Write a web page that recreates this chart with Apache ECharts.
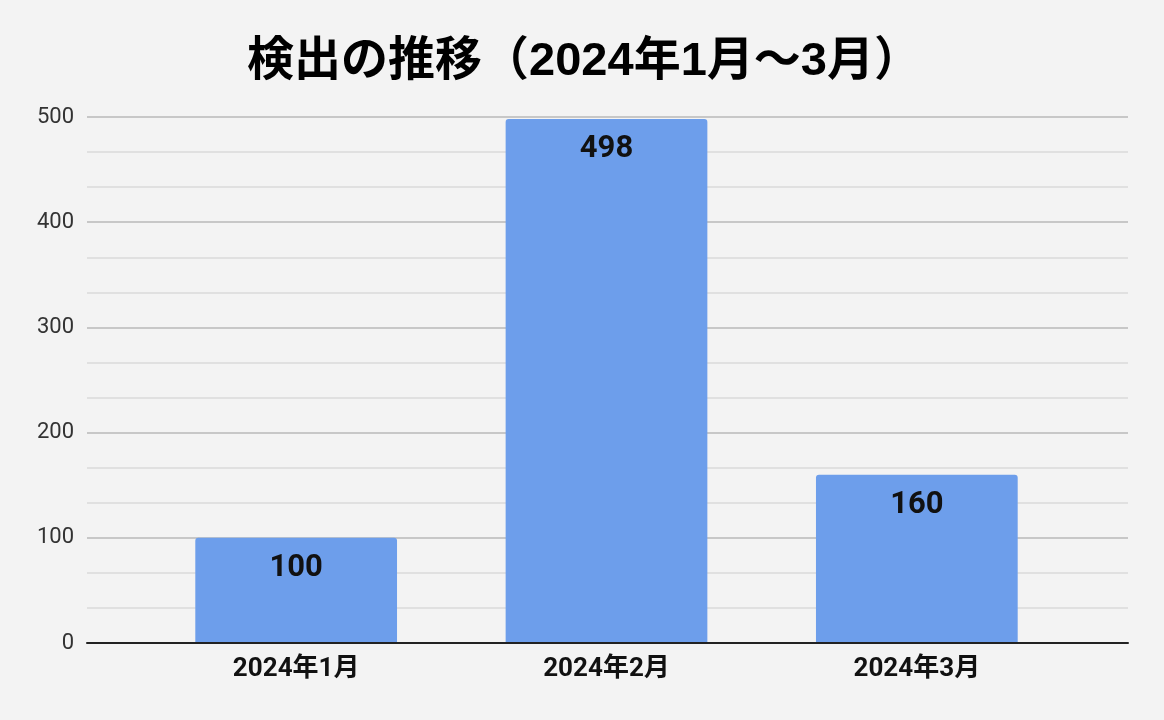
<!DOCTYPE html>
<html><head><meta charset="utf-8">
<script src="https://cdn.jsdelivr.net/npm/echarts@6/dist/echarts.min.js"></script>
<style>html,body{margin:0;padding:0;background:#f3f3f3}#c{width:1164px;height:720px}</style>
</head><body><div id="c"></div>
<script>
const titleText = '検出の推移（2024年1月～3月）';
const categories = ['2024年1月', '2024年2月', '2024年3月'];
const values = [100, 498, 160];
const yMin = 0, yMax = 500, yInterval = 100;

const chart = echarts.init(document.getElementById('c'), null, {renderer: 'canvas'});
chart.setOption({
  backgroundColor: '#f3f3f3',
  animation: false,
  title: {
    text: titleText, left: 579, top: 34, textAlign: 'center',
    textStyle: {fontFamily: '"Liberation Sans", "Noto Sans CJK JP", sans-serif', fontWeight: 'bold', fontSize: 47, color: '#000'}
  },
  grid: [
    {left: 87, right: 36, top: 117, bottom: 77},
    {left: 141, right: 92, top: 117, bottom: 77}
  ],
  xAxis: [
    {gridIndex: 0, type: 'category', data: categories, axisLine: {lineStyle: {color: '#222', width: 2}}, axisTick: {show: false}, axisLabel: {show: false}, z: 10},
    {gridIndex: 1, type: 'category', data: categories, axisLine: {show: false}, axisTick: {show: false},
     axisLabel: {margin: 13, fontFamily: 'Roboto, "Noto Sans CJK JP", sans-serif', fontWeight: 'bold', fontSize: 26, color: '#111'}}
  ],
  yAxis: [
    {gridIndex: 0, type: 'value', min: yMin, max: yMax, interval: yInterval,
     axisLine: {show: false}, axisTick: {show: false},
     axisLabel: {margin: 13, fontFamily: 'Roboto, sans-serif', fontSize: 22, color: '#333'},
     splitLine: {lineStyle: {color: '#b8b8b8', width: 1.5}},
     minorTick: {show: false, splitNumber: 3},
     minorSplitLine: {show: true, lineStyle: {color: '#dadada', width: 1.5}}},
    {gridIndex: 1, type: 'value', min: yMin, max: yMax, interval: yInterval, show: false, splitLine: {show: false}}
  ],
  series: [{
    type: 'bar', xAxisIndex: 1, yAxisIndex: 1, data: values, barWidth: '65%',
    itemStyle: {color: '#6d9eeb', borderRadius: [3, 3, 0, 0]},
    label: {show: true, position: 'insideTop', distance: 15, fontFamily: 'Roboto, sans-serif', fontWeight: 'bold', fontSize: 31, color: '#111'}
  }]
});
</script></body></html>
